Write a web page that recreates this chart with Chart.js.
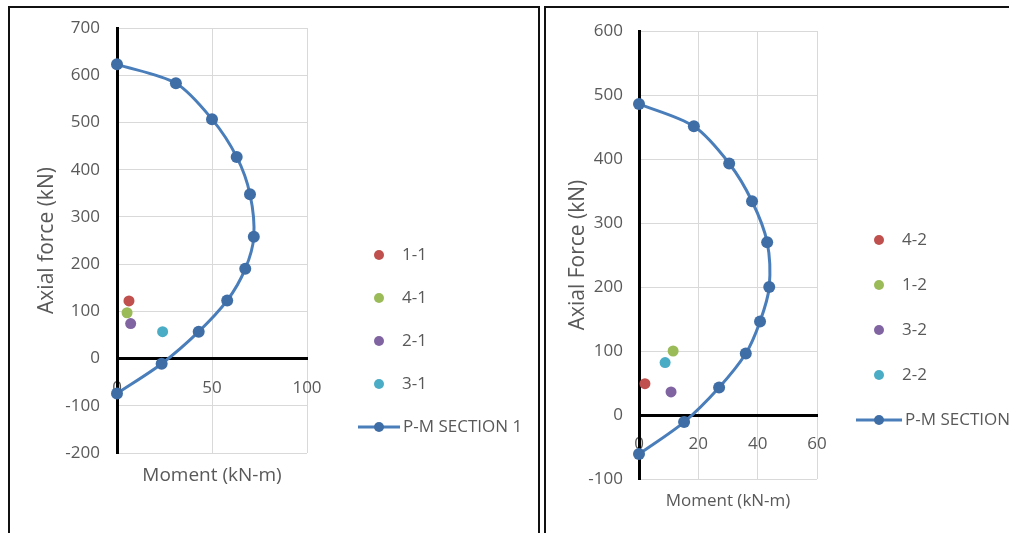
<!DOCTYPE html>
<html>
<head>
<meta charset="utf-8">
<script src="https://cdn.jsdelivr.net/npm/chart.js@4.4.1/dist/chart.umd.min.js"></script>
<style>
  html, body { margin: 0; padding: 0; background: #fff; overflow: hidden; width: 1009px; height: 533px; }
  .panel { position: absolute; top: 6px; height: 600px; border: 2px solid #111; box-sizing: border-box; overflow: hidden; background: #fff; }
  #panel1 { left: 8px; width: 532px; }
  #panel2 { left: 544px; width: 520px; }
  canvas { display: block; }
</style>
</head>
<body>
<div class="panel" id="panel1"><canvas id="chart1" width="528" height="590"></canvas></div>
<div class="panel" id="panel2"><canvas id="chart2" width="500" height="590"></canvas></div>

<script>
// ---- Section 1 ----
const pmMoment1 = [0, 31, 50, 63, 70, 72, 67.5, 58, 43, 23.5, 0];
const pmAxial1  = [623, 583, 507, 427, 348, 258, 190, 123, 57, -11, -74];
const loadNames1  = ['1-1', '4-1', '2-1', '3-1'];
const loadMoment1 = [6.3, 5.3, 7.2, 24];
const loadAxial1  = [122, 97, 74, 57];

// ---- Section 2 ----
const pmMoment2 = [0, 18.5, 30.4, 38.1, 43.2, 43.9, 40.8, 36, 27, 15.2, 0];
const pmAxial2  = [486, 451, 393, 334, 270, 200, 146, 96, 43, -11, -61];
const loadNames2  = ['4-2', '1-2', '3-2', '2-2'];
const loadMoment2 = [2, 11.5, 10.8, 8.8];
const loadAxial2  = [49, 100, 36, 82];

const pointColors = ['#C0504D', '#9BBB59', '#8064A2', '#4BACC6'];
const TEXT = '#595959';
const GRID = '#d9d9d9';

Chart.defaults.font.family = "'Open Sans', sans-serif";
Chart.defaults.color = TEXT;

// legend drawn beside the plot, one row per dataset
const sideLegend = {
    id: 'sideLegend',
    afterDraw(chart, args, opts) {
        const ctx = chart.ctx;
        ctx.save();
        ctx.font = opts.fontSize + "px 'Open Sans', sans-serif";
        ctx.textBaseline = 'middle';
        chart.data.datasets.forEach((ds, i) => {
            const x = opts.x;
            const y = opts.top + i * opts.gap;
            let textX = x + 23;
            if (ds.showLine) {
                ctx.strokeStyle = ds.borderColor;
                ctx.lineWidth = 3;
                ctx.beginPath();
                ctx.moveTo(x - opts.lineHalf, y);
                ctx.lineTo(x + opts.lineHalf, y);
                ctx.stroke();
                ctx.fillStyle = ds.pointBackgroundColor;
                textX = x + opts.lineHalf + 3;
            } else {
                ctx.fillStyle = ds.backgroundColor;
            }
            ctx.beginPath();
            ctx.arc(x, y, 5, 0, Math.PI * 2);
            ctx.fill();
            ctx.fillStyle = TEXT;
            ctx.fillText(ds.label, textX, y);
        });
        ctx.restore();
    }
};

function buildDatasets(names, mx, px, curveM, curveP, curveLabel) {
    const sets = names.map((n, i) => ({
        label: n,
        data: [{ x: mx[i], y: px[i] }],
        backgroundColor: pointColors[i],
        borderColor: pointColors[i],
        pointRadius: 5.5,
        pointBorderWidth: 0,
        showLine: false,
        clip: false
    }));
    sets.push({
        label: curveLabel,
        data: curveM.map((m, i) => ({ x: m, y: curveP[i] })),
        showLine: true,
        borderColor: '#4A7EBB',
        borderWidth: 3,
        backgroundColor: '#3F6EA6',
        pointBackgroundColor: '#3F6EA6',
        pointBorderWidth: 0,
        pointRadius: 6,
        tension: 0.3,
        clip: false
    });
    return sets;
}

function buildChart(id, cfg) {
    return new Chart(document.getElementById(id), {
        type: 'scatter',
        data: { datasets: cfg.datasets },
        options: {
            responsive: false,
            animation: false,
            layout: { padding: cfg.padding },
            plugins: {
                legend: { display: false },
                tooltip: { enabled: false },
                sideLegend: cfg.legend
            },
            scales: {
                x: {
                    type: 'linear',
                    position: { y: 0 },
                    min: 0, max: cfg.xMax,
                    ticks: { stepSize: cfg.xStep, padding: 19, font: { size: 17 } },
                    grid: { color: GRID, drawTicks: false },
                    border: { color: '#000', width: 3 },
                    title: { display: true, text: 'Moment (kN-m)', padding: 0, font: { size: cfg.xTitleSize } },
                    // height only sets where the title sits below the zero line
                    afterFit: s => { s.height = cfg.xHeight; }
                },
                y: {
                    type: 'linear',
                    position: 'left',
                    min: cfg.yMin, max: cfg.yMax,
                    // gap to the labels comes from invisible tick marks, so the top of the plot stays put
                    ticks: { stepSize: 100, padding: 0, font: { size: 17 } },
                    grid: { color: GRID, drawTicks: true, tickLength: cfg.yTickGap, tickColor: 'rgba(0,0,0,0)' },
                    border: { color: '#000', width: 3 },
                    title: { display: true, text: cfg.yTitle, padding: 0, font: { size: 21 } },
                    afterFit: s => { s.width = cfg.yWidth; }
                }
            }
        },
        plugins: [sideLegend]
    });
}

buildChart('chart1', {
    datasets: buildDatasets(loadNames1, loadMoment1, loadAxial1, pmMoment1, pmAxial1, 'P-M SECTION 1'),
    padding: { left: 24, top: 20, right: 231, bottom: 145 },
    xMax: 100, xStep: 50, xHeight: 128, xTitleSize: 19,
    yMin: -200, yMax: 700, yWidth: 83, yTickGap: 17,
    yTitle: 'Axial force (kN)',
    legend: { x: 369, top: 247, gap: 43, lineHalf: 21, fontSize: 17 }
});

buildChart('chart2', {
    datasets: buildDatasets(loadNames2, loadMoment2, loadAxial2, pmMoment2, pmAxial2, 'P-M SECTION 2'),
    padding: { left: 19, top: 23, right: 229, bottom: 119 },
    xMax: 60, xStep: 20, xHeight: 96, xTitleSize: 17,
    yMin: -100, yMax: 600, yWidth: 74, yTickGap: 16,
    yTitle: 'Axial Force (kN)',
    legend: { x: 333, top: 232, gap: 45, lineHalf: 23, fontSize: 17 }
});
</script>
</body>
</html>
